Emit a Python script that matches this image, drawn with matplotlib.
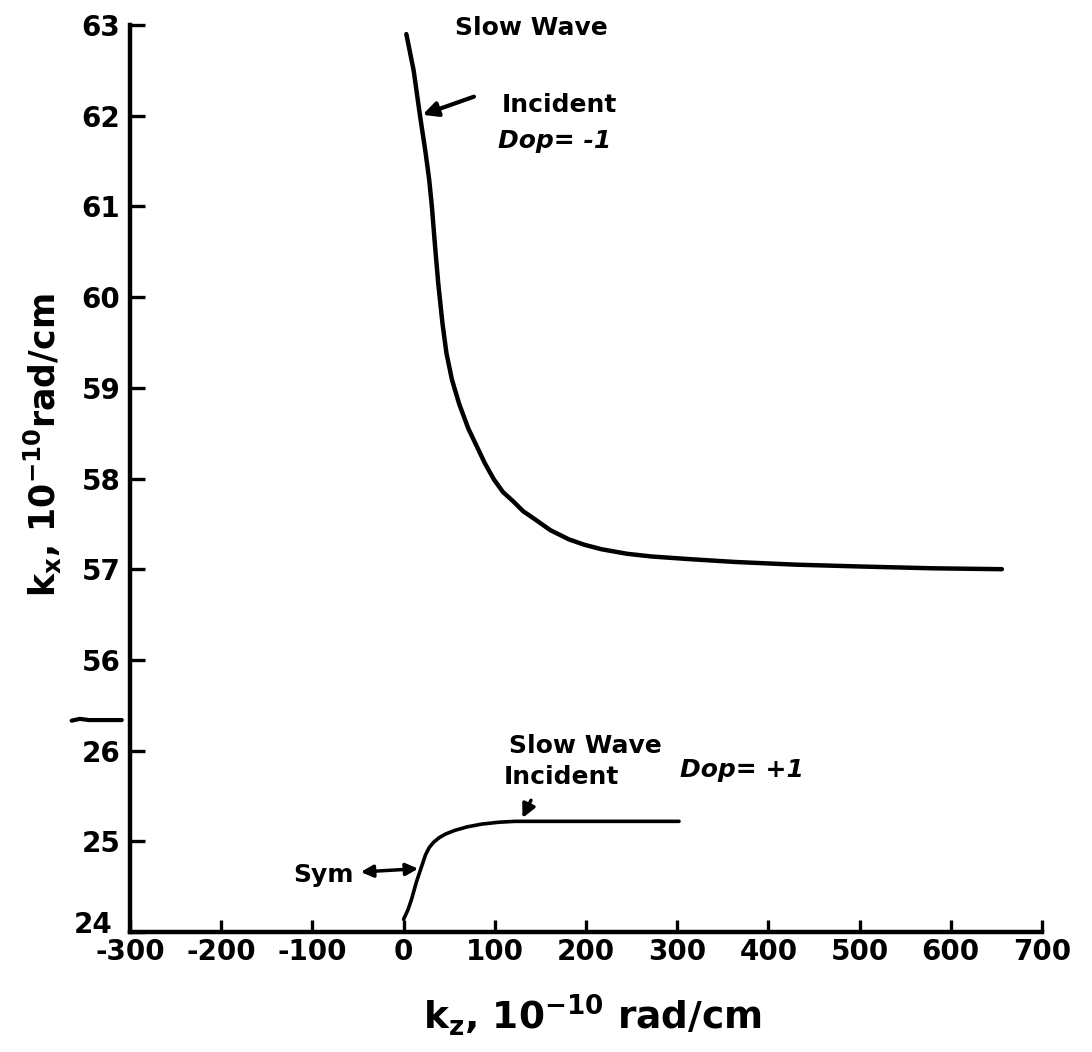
import numpy as np
import matplotlib
matplotlib.use("Agg")
import matplotlib.pyplot as plt
import matplotlib.transforms as mtransforms

plt.rcParams['font.family'] = ['DejaVu Sans']
plt.rcParams['font.weight'] = 'bold'
plt.rcParams['mathtext.default'] = 'bf'
plt.rcParams['axes.unicode_minus'] = False

# Dop = -1 branch (slow wave incident)
kz_upper = [3, 11, 18, 24, 28, 31, 34.5, 38, 42.5, 47, 53, 61, 71, 80, 89, 99, 109, 120, 131,
            144, 161, 181, 198, 217, 245, 272, 315, 363, 430, 500, 580, 656]
kx_upper = [62.9, 62.5, 62.0, 61.6, 61.3, 61.0, 60.56, 60.15, 59.72, 59.38, 59.09, 58.82,
            58.55, 58.36, 58.17, 57.99, 57.85, 57.75, 57.64, 57.55, 57.43, 57.33, 57.27,
            57.22, 57.17, 57.14, 57.11, 57.08, 57.05, 57.03, 57.01, 57.0]

# Dop = +1 branch
kz_lower = [0, 5, 9, 14, 20, 24, 28, 33, 39, 46, 56, 70, 86, 104, 122, 195, 302]
kx_lower = [24.14, 24.25, 24.37, 24.55, 24.73, 24.85, 24.93, 24.99, 25.04, 25.08, 25.12,
            25.16, 25.19, 25.21, 25.22, 25.22, 25.22]

xticks = [-300, -200, -100, 0, 100, 200, 300, 400, 500, 600, 700]
yticks = [24, 25, 26, 56, 57, 58, 59, 60, 61, 62, 63]


# broken axis: 26..56 squeezed into one unit
def fwd(y):
    y = np.asarray(y, dtype=float)
    return np.where(y <= 26, y, np.where(y >= 56, y - 29, 26 + (y - 26) / 30.0))


def inv(t):
    t = np.asarray(t, dtype=float)
    return np.where(t <= 26, t, np.where(t >= 27, t + 29, 26 + (t - 26) * 30.0))


fig = plt.figure(figsize=(10.92, 10.52), dpi=100)
ax = fig.add_axes([130 / 1092, 120 / 1052, 912 / 1092, 907 / 1052])
ax.set_yscale('function', functions=(fwd, inv))

ax.plot(kz_upper, kx_upper, color='black', lw=3.2, solid_capstyle='round', solid_joinstyle='round')
ax.plot(kz_lower, kx_lower, color='black', lw=2.6, solid_capstyle='round', solid_joinstyle='round')

ax.set_xlim(-300, 700)
ax.set_ylim(24, 63)
ax.set_xticks(xticks)
ax.set_yticks(yticks)
ax.set_yticklabels([str(v) for v in yticks])
ax.minorticks_off()

for s in ['top', 'right']:
    ax.spines[s].set_visible(False)
for s in ['left', 'bottom']:
    ax.spines[s].set_linewidth(3.2)
ax.tick_params(axis='y', direction='in', length=11, width=2.4, pad=7, labelsize=20)
ax.tick_params(axis='x', direction='in', length=9, width=2.4, pad=4, labelsize=20)

# the "24" label sits a bit higher and to the left, clear of "-300"
lab24 = ax.get_yticklabels()[0]
lab24.set_transform(lab24.get_transform() +
                    mtransforms.ScaledTranslation(-0.08, 0.10, fig.dpi_scale_trans))

ax.set_xlabel(r'k$_{z}$, 10$^{-10}$ rad/cm', fontsize=27, fontweight='bold', va='center')
ax.set_ylabel(r'k$_{x}$, 10$^{-10}$rad/cm', fontsize=25, fontweight='bold', va='center')
ax.xaxis.set_label_coords(0.507, -0.092)
ax.yaxis.set_label_coords(-0.095, 0.537)

# axis break mark
trans = mtransforms.blended_transform_factory(ax.transAxes, ax.transData)
ax.plot([-0.064, -0.055, -0.045, -0.009], [35.9, 36.5, 36.1, 36.1], color='black', lw=3,
        transform=trans, clip_on=False, solid_capstyle='round')

fs = 18
# upper annotations
ax.text(0.44, 0.997, 'Slow Wave', transform=ax.transAxes, ha='center', va='center', fontsize=fs)
ax.text(0.471, 0.912, 'Incident', transform=ax.transAxes, ha='center', va='center', fontsize=fs)
ax.text(0.466, 0.872, 'Dop= -1', transform=ax.transAxes, ha='center', va='center', fontsize=fs,
        style='italic')
ax.annotate('', xy=(18, 62.0), xycoords='data', xytext=(0.38, 0.922), textcoords='axes fraction',
            arrowprops=dict(arrowstyle='-|>', color='black', lw=3, mutation_scale=22))

# lower annotations
ax.text(0.499, 0.205, 'Slow Wave', transform=ax.transAxes, ha='center', va='center', fontsize=fs)
ax.text(0.473, 0.171, 'Incident', transform=ax.transAxes, ha='center', va='center', fontsize=fs)
ax.text(0.603, 0.179, 'Dop= +1', transform=ax.transAxes, ha='left', va='center', fontsize=fs,
        style='italic')
ax.annotate('', xy=(129, 25.23), xycoords='data', xytext=(0.441, 0.148), textcoords='axes fraction',
            arrowprops=dict(arrowstyle='-|>', color='black', lw=2.5, mutation_scale=20))
ax.text(0.212, 0.063, 'Sym', transform=ax.transAxes, ha='center', va='center', fontsize=fs)
ax.annotate('', xy=(19, 24.7), xycoords='data', xytext=(0.25, 0.066), textcoords='axes fraction',
            arrowprops=dict(arrowstyle='<|-|>', color='black', lw=2.5, mutation_scale=18))

fig.savefig('out.png', dpi=100)
